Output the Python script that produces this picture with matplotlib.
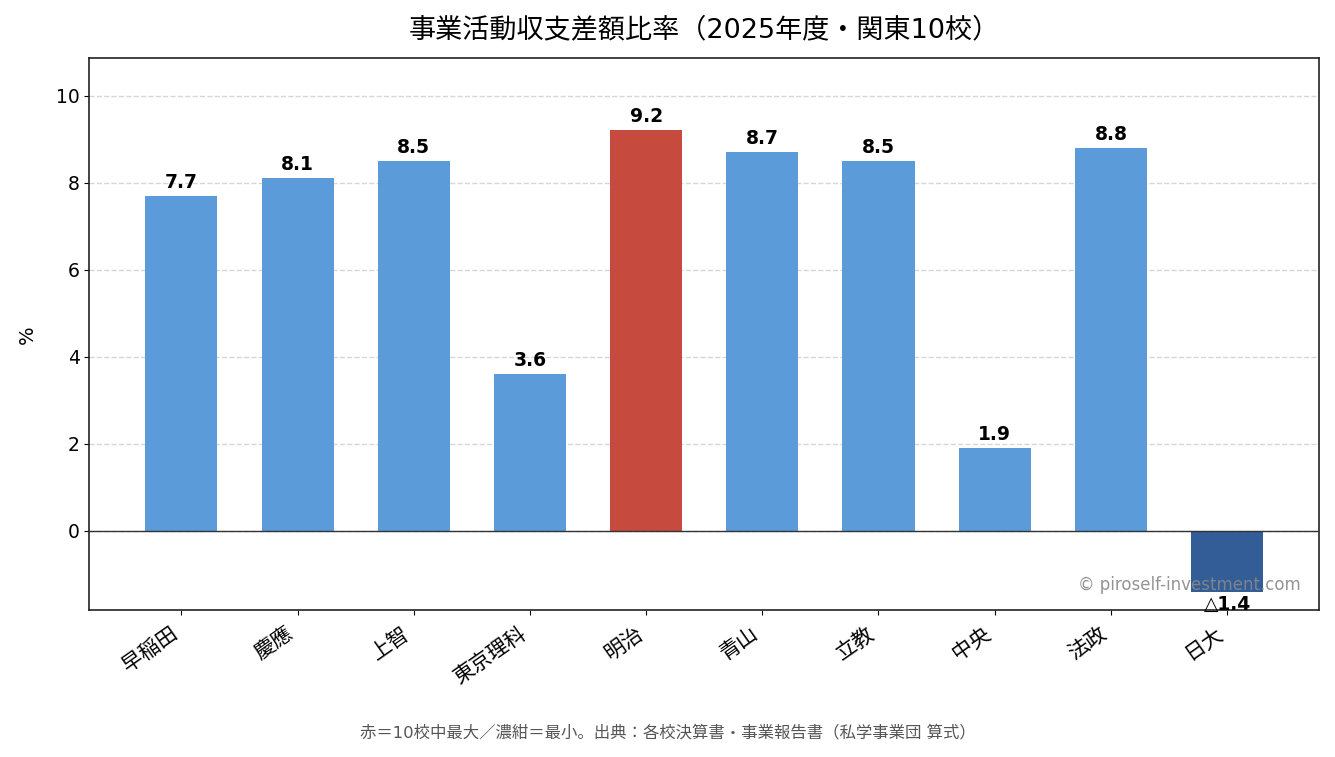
import matplotlib
matplotlib.use('Agg')
import matplotlib.pyplot as plt

# Latin in DejaVu (wide digits), Japanese falls back to Noto CJK
plt.rcParams['font.family'] = ['DejaVu Sans', 'Noto Sans CJK JP']

schools = ['早稲田', '慶應', '上智', '東京理科', '明治', '青山', '立教', '中央', '法政', '日大']
ratios = [7.7, 8.1, 8.5, 3.6, 9.2, 8.7, 8.5, 1.9, 8.8, -1.4]

blue = '#5B9BDA'
red = '#C64B3E'
navy = '#325D97'

max_v = max(ratios)
min_v = min(ratios)
colors = []
for v in ratios:
    if v == max_v:
        colors.append(red)
    elif v == min_v:
        colors.append(navy)
    else:
        colors.append(blue)

fig, ax = plt.subplots(figsize=(13.35, 7.57), dpi=100)
fig.subplots_adjust(left=0.067, right=0.988, top=0.923, bottom=0.194)

x = range(len(schools))
bars = ax.bar(x, ratios, width=0.62, color=colors, zorder=3)

ax.axhline(0, color='#333333', linewidth=1.0, zorder=4)
ax.grid(axis='y', linestyle='--', color='#cccccc', linewidth=1.0, alpha=0.8, zorder=0)
ax.set_axisbelow(True)

ax.set_ylim(min_v * 1.3, max_v * 1.18)

for b, v in zip(bars, ratios):
    cx = b.get_x() + b.get_width() / 2
    if v >= 0:
        ax.annotate(f'{v:.1f}', (cx, v), xytext=(0, 3), textcoords='offset points',
                    ha='center', va='bottom', fontsize=13.5, fontweight='bold')
    else:
        ax.annotate(f'△{abs(v):.1f}', (cx, v), xytext=(0, -2), textcoords='offset points',
                    ha='center', va='top', fontsize=13.5, fontweight='bold')

ax.set_xticks(list(x))
ax.set_xticklabels(schools, rotation=35, ha='right', fontsize=15)
ax.tick_params(axis='y', labelsize=13.5)
ax.tick_params(axis='x', pad=6)
ax.set_ylabel('%', fontsize=14, labelpad=14)
ax.set_title('事業活動収支差額比率（2025年度・関東10校）', fontsize=19.5, pad=15)

for s in ax.spines.values():
    s.set_color('#222222')
    s.set_linewidth(1.2)

ax.text(0.985, 0.045, '© piroself-investment.com', transform=ax.transAxes,
        ha='right', va='center', fontsize=12, color='#888888', alpha=0.9)

fig.text(0.5, 0.033, '赤＝10校中最大／濃紺＝最小。出典：各校決算書・事業報告書（私学事業団 算式）',
         ha='center', va='center', fontsize=11.8, color='#555555')

fig.savefig('out.png', dpi=100)
